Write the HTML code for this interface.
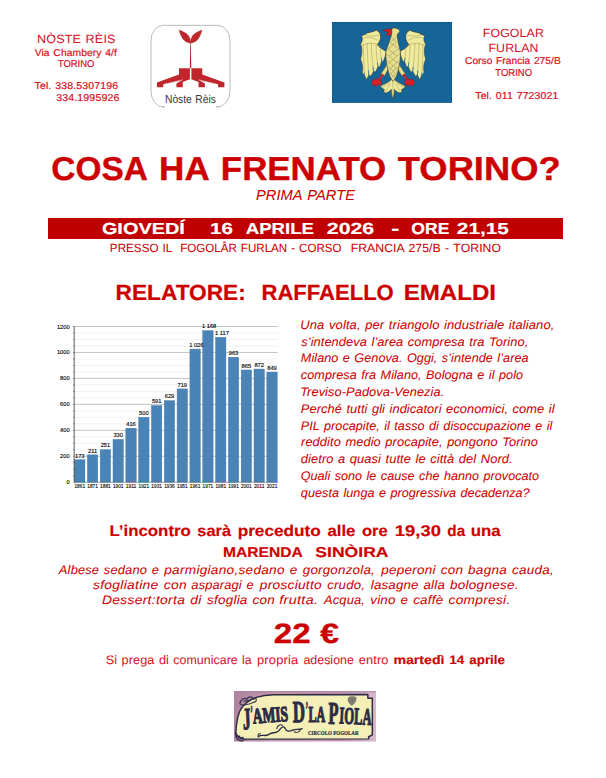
<!DOCTYPE html>
<html lang="it"><head><meta charset="utf-8"><title>Cosa ha frenato Torino?</title>
<style>
html,body{margin:0;padding:0;background:#fff;}
body{width:606px;height:778px;position:relative;overflow:hidden;font-family:"Liberation Sans",sans-serif;}
.t{position:absolute;left:0;white-space:pre;line-height:1;transform-origin:0 0;margin:0;text-rendering:geometricPrecision;}
.abs{position:absolute;display:block;}
.banner{position:absolute;left:48px;top:218px;width:515px;height:21px;background:#c00000;}
</style></head><body>
<div class="banner"></div>
<svg class="abs" style="left:0;top:310px" width="300" height="190" viewBox="0 310 300 190">
<line x1="74.2" x2="277.9" y1="475.71" y2="475.71" stroke="#e3e3e3" stroke-width="0.5"/>
<line x1="73.0" x2="74.2" y1="475.71" y2="475.71" stroke="#222" stroke-width="0.5"/>
<line x1="74.2" x2="277.9" y1="469.22" y2="469.22" stroke="#e3e3e3" stroke-width="0.5"/>
<line x1="73.0" x2="74.2" y1="469.22" y2="469.22" stroke="#222" stroke-width="0.5"/>
<line x1="74.2" x2="277.9" y1="462.74" y2="462.74" stroke="#e3e3e3" stroke-width="0.5"/>
<line x1="73.0" x2="74.2" y1="462.74" y2="462.74" stroke="#222" stroke-width="0.5"/>
<line x1="74.2" x2="277.9" y1="456.25" y2="456.25" stroke="#9a9a9a" stroke-width="0.6"/>
<line x1="73.0" x2="74.2" y1="456.25" y2="456.25" stroke="#222" stroke-width="0.5"/>
<line x1="74.2" x2="277.9" y1="449.76" y2="449.76" stroke="#e3e3e3" stroke-width="0.5"/>
<line x1="73.0" x2="74.2" y1="449.76" y2="449.76" stroke="#222" stroke-width="0.5"/>
<line x1="74.2" x2="277.9" y1="443.27" y2="443.27" stroke="#e3e3e3" stroke-width="0.5"/>
<line x1="73.0" x2="74.2" y1="443.27" y2="443.27" stroke="#222" stroke-width="0.5"/>
<line x1="74.2" x2="277.9" y1="436.79" y2="436.79" stroke="#e3e3e3" stroke-width="0.5"/>
<line x1="73.0" x2="74.2" y1="436.79" y2="436.79" stroke="#222" stroke-width="0.5"/>
<line x1="74.2" x2="277.9" y1="430.30" y2="430.30" stroke="#9a9a9a" stroke-width="0.6"/>
<line x1="73.0" x2="74.2" y1="430.30" y2="430.30" stroke="#222" stroke-width="0.5"/>
<line x1="74.2" x2="277.9" y1="423.81" y2="423.81" stroke="#e3e3e3" stroke-width="0.5"/>
<line x1="73.0" x2="74.2" y1="423.81" y2="423.81" stroke="#222" stroke-width="0.5"/>
<line x1="74.2" x2="277.9" y1="417.32" y2="417.32" stroke="#e3e3e3" stroke-width="0.5"/>
<line x1="73.0" x2="74.2" y1="417.32" y2="417.32" stroke="#222" stroke-width="0.5"/>
<line x1="74.2" x2="277.9" y1="410.84" y2="410.84" stroke="#e3e3e3" stroke-width="0.5"/>
<line x1="73.0" x2="74.2" y1="410.84" y2="410.84" stroke="#222" stroke-width="0.5"/>
<line x1="74.2" x2="277.9" y1="404.35" y2="404.35" stroke="#9a9a9a" stroke-width="0.6"/>
<line x1="73.0" x2="74.2" y1="404.35" y2="404.35" stroke="#222" stroke-width="0.5"/>
<line x1="74.2" x2="277.9" y1="397.86" y2="397.86" stroke="#e3e3e3" stroke-width="0.5"/>
<line x1="73.0" x2="74.2" y1="397.86" y2="397.86" stroke="#222" stroke-width="0.5"/>
<line x1="74.2" x2="277.9" y1="391.38" y2="391.38" stroke="#e3e3e3" stroke-width="0.5"/>
<line x1="73.0" x2="74.2" y1="391.38" y2="391.38" stroke="#222" stroke-width="0.5"/>
<line x1="74.2" x2="277.9" y1="384.89" y2="384.89" stroke="#e3e3e3" stroke-width="0.5"/>
<line x1="73.0" x2="74.2" y1="384.89" y2="384.89" stroke="#222" stroke-width="0.5"/>
<line x1="74.2" x2="277.9" y1="378.40" y2="378.40" stroke="#9a9a9a" stroke-width="0.6"/>
<line x1="73.0" x2="74.2" y1="378.40" y2="378.40" stroke="#222" stroke-width="0.5"/>
<line x1="74.2" x2="277.9" y1="371.91" y2="371.91" stroke="#e3e3e3" stroke-width="0.5"/>
<line x1="73.0" x2="74.2" y1="371.91" y2="371.91" stroke="#222" stroke-width="0.5"/>
<line x1="74.2" x2="277.9" y1="365.42" y2="365.42" stroke="#e3e3e3" stroke-width="0.5"/>
<line x1="73.0" x2="74.2" y1="365.42" y2="365.42" stroke="#222" stroke-width="0.5"/>
<line x1="74.2" x2="277.9" y1="358.94" y2="358.94" stroke="#e3e3e3" stroke-width="0.5"/>
<line x1="73.0" x2="74.2" y1="358.94" y2="358.94" stroke="#222" stroke-width="0.5"/>
<line x1="74.2" x2="277.9" y1="352.45" y2="352.45" stroke="#9a9a9a" stroke-width="0.6"/>
<line x1="73.0" x2="74.2" y1="352.45" y2="352.45" stroke="#222" stroke-width="0.5"/>
<line x1="74.2" x2="277.9" y1="345.96" y2="345.96" stroke="#e3e3e3" stroke-width="0.5"/>
<line x1="73.0" x2="74.2" y1="345.96" y2="345.96" stroke="#222" stroke-width="0.5"/>
<line x1="74.2" x2="277.9" y1="339.48" y2="339.48" stroke="#e3e3e3" stroke-width="0.5"/>
<line x1="73.0" x2="74.2" y1="339.48" y2="339.48" stroke="#222" stroke-width="0.5"/>
<line x1="74.2" x2="277.9" y1="332.99" y2="332.99" stroke="#e3e3e3" stroke-width="0.5"/>
<line x1="73.0" x2="74.2" y1="332.99" y2="332.99" stroke="#222" stroke-width="0.5"/>
<line x1="74.2" x2="277.9" y1="326.50" y2="326.50" stroke="#9a9a9a" stroke-width="0.6"/>
<line x1="73.0" x2="74.2" y1="326.50" y2="326.50" stroke="#222" stroke-width="0.5"/>
<rect x="74.55" y="459.75" width="10.4" height="22.45" fill="#4a83b6" stroke="#3f76a8" stroke-width="0.4"/>
<rect x="87.37" y="454.82" width="10.4" height="27.38" fill="#4a83b6" stroke="#3f76a8" stroke-width="0.4"/>
<rect x="100.18" y="449.63" width="10.4" height="32.57" fill="#4a83b6" stroke="#3f76a8" stroke-width="0.4"/>
<rect x="113.00" y="439.38" width="10.4" height="42.82" fill="#4a83b6" stroke="#3f76a8" stroke-width="0.4"/>
<rect x="125.82" y="428.22" width="10.4" height="53.98" fill="#4a83b6" stroke="#3f76a8" stroke-width="0.4"/>
<rect x="138.63" y="417.32" width="10.4" height="64.88" fill="#4a83b6" stroke="#3f76a8" stroke-width="0.4"/>
<rect x="151.45" y="405.52" width="10.4" height="76.68" fill="#4a83b6" stroke="#3f76a8" stroke-width="0.4"/>
<rect x="164.27" y="400.59" width="10.4" height="81.61" fill="#4a83b6" stroke="#3f76a8" stroke-width="0.4"/>
<rect x="177.09" y="388.91" width="10.4" height="93.29" fill="#4a83b6" stroke="#3f76a8" stroke-width="0.4"/>
<rect x="189.90" y="349.08" width="10.4" height="133.12" fill="#4a83b6" stroke="#3f76a8" stroke-width="0.4"/>
<rect x="202.72" y="330.65" width="10.4" height="151.55" fill="#4a83b6" stroke="#3f76a8" stroke-width="0.4"/>
<rect x="215.54" y="337.27" width="10.4" height="144.93" fill="#4a83b6" stroke="#3f76a8" stroke-width="0.4"/>
<rect x="228.35" y="357.25" width="10.4" height="124.95" fill="#4a83b6" stroke="#3f76a8" stroke-width="0.4"/>
<rect x="241.17" y="369.97" width="10.4" height="112.23" fill="#4a83b6" stroke="#3f76a8" stroke-width="0.4"/>
<rect x="253.99" y="369.06" width="10.4" height="113.14" fill="#4a83b6" stroke="#3f76a8" stroke-width="0.4"/>
<rect x="266.81" y="372.04" width="10.4" height="110.16" fill="#4a83b6" stroke="#3f76a8" stroke-width="0.4"/>
<line x1="74.2" x2="74.2" y1="326.50" y2="482.50" stroke="#222" stroke-width="0.7"/>
<line x1="74.2" x2="277.9" y1="482.20" y2="482.20" stroke="#555" stroke-width="0.5"/>
<g font-family="Liberation Sans, sans-serif" font-size="5.7" fill="#000" stroke="#000" stroke-width="0.12" text-rendering="geometricPrecision">
<text x="69.6" y="484.20" text-anchor="end">0</text>
<text x="69.6" y="458.25" text-anchor="end">200</text>
<text x="69.6" y="432.30" text-anchor="end">400</text>
<text x="69.6" y="406.35" text-anchor="end">600</text>
<text x="69.6" y="380.40" text-anchor="end">800</text>
<text x="69.6" y="354.45" text-anchor="end">1000</text>
<text x="69.6" y="328.50" text-anchor="end">1200</text>
<text x="79.75" y="457.55" text-anchor="middle">173</text>
<text x="79.75" y="488.00" text-anchor="middle" textLength="10.6" lengthAdjust="spacingAndGlyphs">1861</text>
<text x="92.57" y="452.62" text-anchor="middle">211</text>
<text x="92.57" y="488.00" text-anchor="middle" textLength="10.6" lengthAdjust="spacingAndGlyphs">1871</text>
<text x="105.38" y="447.43" text-anchor="middle">251</text>
<text x="105.38" y="488.00" text-anchor="middle" textLength="10.6" lengthAdjust="spacingAndGlyphs">1881</text>
<text x="118.20" y="437.18" text-anchor="middle">330</text>
<text x="118.20" y="488.00" text-anchor="middle" textLength="10.6" lengthAdjust="spacingAndGlyphs">1901</text>
<text x="131.02" y="426.02" text-anchor="middle">416</text>
<text x="131.02" y="488.00" text-anchor="middle" textLength="10.6" lengthAdjust="spacingAndGlyphs">1911</text>
<text x="143.83" y="415.12" text-anchor="middle">500</text>
<text x="143.83" y="488.00" text-anchor="middle" textLength="10.6" lengthAdjust="spacingAndGlyphs">1921</text>
<text x="156.65" y="403.32" text-anchor="middle">591</text>
<text x="156.65" y="488.00" text-anchor="middle" textLength="10.6" lengthAdjust="spacingAndGlyphs">1931</text>
<text x="169.47" y="398.39" text-anchor="middle">629</text>
<text x="169.47" y="488.00" text-anchor="middle" textLength="10.6" lengthAdjust="spacingAndGlyphs">1936</text>
<text x="182.29" y="386.71" text-anchor="middle">719</text>
<text x="182.29" y="488.00" text-anchor="middle" textLength="10.6" lengthAdjust="spacingAndGlyphs">1951</text>
<text x="196.30" y="346.88" text-anchor="middle">1 026</text>
<text x="195.10" y="488.00" text-anchor="middle" textLength="10.6" lengthAdjust="spacingAndGlyphs">1961</text>
<text x="209.12" y="328.45" text-anchor="middle">1 168</text>
<text x="207.92" y="488.00" text-anchor="middle" textLength="10.6" lengthAdjust="spacingAndGlyphs">1971</text>
<text x="221.94" y="335.07" text-anchor="middle">1 117</text>
<text x="220.74" y="488.00" text-anchor="middle" textLength="10.6" lengthAdjust="spacingAndGlyphs">1981</text>
<text x="233.55" y="355.05" text-anchor="middle">963</text>
<text x="233.55" y="488.00" text-anchor="middle" textLength="10.6" lengthAdjust="spacingAndGlyphs">1991</text>
<text x="246.37" y="367.77" text-anchor="middle">865</text>
<text x="246.37" y="488.00" text-anchor="middle" textLength="10.6" lengthAdjust="spacingAndGlyphs">2001</text>
<text x="259.19" y="366.86" text-anchor="middle">872</text>
<text x="259.19" y="488.00" text-anchor="middle" textLength="10.6" lengthAdjust="spacingAndGlyphs">2011</text>
<text x="272.00" y="369.84" text-anchor="middle">849</text>
<text x="272.00" y="488.00" text-anchor="middle" textLength="10.6" lengthAdjust="spacingAndGlyphs">2021</text>
</g></svg>
<svg class="abs" style="left:140px;top:20px" width="100" height="90" viewBox="140 20 100 90">
<path d="M163.6 107 A12.6 16 0 0 1 151 91 L151 40.4 A12.4 15 0 0 1 163.3 25.35 L217.6 25.35 A12.4 15 0 0 1 230 40.4 L230 91 A12.6 16 0 0 1 217.4 107" fill="none" stroke="#8c8c8c" stroke-width="0.6"/>
<circle cx="163.8" cy="106.9" r="0.7" fill="#777"/><circle cx="217.2" cy="106.9" r="0.7" fill="#777"/>
<path d="M179 30.1 C180 34 181.5 37 182.5 38.5 C184 40.8 186.5 42.6 190.45 43.2 C190.6 41 190.4 40 190.1 39.2 C189.5 37.5 188.8 36 188 35.1 C186 33 183 31.5 179 30.1 Z" fill="#c0272d" stroke="#8e1c1c" stroke-width="0.25"/>
<g transform="translate(381.1 0) scale(-1 1)"><path d="M179 30.1 C180 34 181.5 37 182.5 38.5 C184 40.8 186.5 42.6 190.45 43.2 C190.6 41 190.4 40 190.1 39.2 C189.5 37.5 188.8 36 188 35.1 C186 33 183 31.5 179 30.1 Z" fill="#c0272d" stroke="#8e1c1c" stroke-width="0.25"/></g>
<path d="M190.3 43 L190.75 43 L191.3 68.2 L189.8 68.2 Z" fill="#c0272d"/>
<line x1="190.5" x2="190.5" y1="43" y2="64" stroke="#5a1a1a" stroke-width="0.25"/>
<path d="M179 68.2 L189.9 68.2 L189.9 79.2 L182.8 82 L182.8 87.2 L176.4 87.2 L176.4 83.4 L181.5 80.6 L163.2 84.4 L163.2 87.2 L156.9 87.2 L156.9 82.6 L179 74.6 Z" fill="#c0272d"/><path d="M163.4 84.5 L182.6 79.9" stroke="#fff" stroke-width="0.55" fill="none"/>
<g transform="translate(381.3 0) scale(-1 1)"><path d="M179 68.2 L189.9 68.2 L189.9 79.2 L182.8 82 L182.8 87.2 L176.4 87.2 L176.4 83.4 L181.5 80.6 L163.2 84.4 L163.2 87.2 L156.9 87.2 L156.9 82.6 L179 74.6 Z" fill="#c0272d"/><path d="M163.4 84.5 L182.6 79.9" stroke="#fff" stroke-width="0.55" fill="none"/></g>
<line x1="190.55" x2="190.55" y1="68" y2="80" stroke="#fff" stroke-width="0.6"/>
</svg>
<svg class="abs" style="left:330px;top:20px" width="124" height="85" viewBox="330 20 124 85">
<rect x="332" y="22" width="120" height="80.75" fill="#156598"/>
<rect x="332.3" y="22.3" width="119.4" height="80.15" fill="none" stroke="#0b588c" stroke-width="0.6"/>
<g transform="translate(355 22) scale(0.12376)" stroke-linejoin="round">
<g transform="">
<path d="M254 238 C225 225 195 205 180 182 C195 165 208 145 205 126 C207 110 203 95 199 88 C192 80 182 74 174 66 C150 78 125 82 99 88 C85 98 70 106 52 110 C66 135 58 160 45 180 C62 220 56 262 45 300 C62 335 64 372 58 406 C72 428 84 446 93 466 L112 430 L128 438 L150 400 L166 404 L186 362 L200 364 L216 318 L230 318 C240 292 250 262 254 238 Z" fill="#f0ea9c" stroke="#3c3a2a" stroke-width="5"/>
<path d="M112 430 C104 340 100 250 98 170 M150 400 C140 330 134 250 132 170 M186 362 C178 310 172 250 170 180 M216 318 C210 285 206 250 205 215 M75 405 C70 330 68 250 66 175 M60 190 C100 165 160 165 215 200 M70 130 C110 120 150 125 190 150 M80 105 C120 115 160 118 195 105" fill="none" stroke="#7f7b4a" stroke-width="5" opacity="0.6"/>
<path d="M112 432 L108 395 M150 402 L146 365 M186 364 L182 330 M216 320 L213 295 M80 440 L76 410" fill="none" stroke="#156598" stroke-width="6" stroke-linecap="round"/>
<path d="M266 330 C248 360 228 395 208 420 L238 436 C254 412 268 382 282 350 Z" fill="#e6df90" stroke="#3c3a2a" stroke-width="4"/>
<path d="M222 428 L184 482" stroke="#d8202a" stroke-width="17" stroke-linecap="round"/>
<path d="M136 480 C146 462 172 456 190 464 C208 467 216 482 213 497 C206 517 192 507 187 502 C182 522 164 522 160 507 C150 522 136 512 136 480 Z" fill="#d8202a" stroke="#7a1010" stroke-width="3"/>
</g>
<g transform="translate(616 0) scale(-1 1)">
<path d="M254 238 C225 225 195 205 180 182 C195 165 208 145 205 126 C207 110 203 95 199 88 C192 80 182 74 174 66 C150 78 125 82 99 88 C85 98 70 106 52 110 C66 135 58 160 45 180 C62 220 56 262 45 300 C62 335 64 372 58 406 C72 428 84 446 93 466 L112 430 L128 438 L150 400 L166 404 L186 362 L200 364 L216 318 L230 318 C240 292 250 262 254 238 Z" fill="#f0ea9c" stroke="#3c3a2a" stroke-width="5"/>
<path d="M112 430 C104 340 100 250 98 170 M150 400 C140 330 134 250 132 170 M186 362 C178 310 172 250 170 180 M216 318 C210 285 206 250 205 215 M75 405 C70 330 68 250 66 175 M60 190 C100 165 160 165 215 200 M70 130 C110 120 150 125 190 150 M80 105 C120 115 160 118 195 105" fill="none" stroke="#7f7b4a" stroke-width="5" opacity="0.6"/>
<path d="M112 432 L108 395 M150 402 L146 365 M186 364 L182 330 M216 320 L213 295 M80 440 L76 410" fill="none" stroke="#156598" stroke-width="6" stroke-linecap="round"/>
<path d="M266 330 C248 360 228 395 208 420 L238 436 C254 412 268 382 282 350 Z" fill="#e6df90" stroke="#3c3a2a" stroke-width="4"/>
<path d="M222 428 L184 482" stroke="#d8202a" stroke-width="17" stroke-linecap="round"/>
<path d="M136 480 C146 462 172 456 190 464 C208 467 216 482 213 497 C206 517 192 507 187 502 C182 522 164 522 160 507 C150 522 136 512 136 480 Z" fill="#d8202a" stroke="#7a1010" stroke-width="3"/>
</g>
<path d="M307 455 C284 480 244 500 202 518 C217 533 227 543 238 546 C228 558 233 570 248 574 C268 569 283 559 293 544 C293 575 298 600 305 618 C314 600 319 575 319 544 C329 559 343 569 363 574 C378 571 383 559 375 546 C388 543 398 533 408 518 C368 500 330 480 307 455 Z" fill="#f0ea9c" stroke="#3c3a2a" stroke-width="5"/>
<path d="M306 480 L306 600 M288 490 C273 520 258 540 248 560 M324 490 C339 520 354 540 364 560 M273 495 C253 510 233 520 218 525 M339 495 C359 510 379 520 394 525" fill="none" stroke="#7f7b4a" stroke-width="5" opacity="0.65"/>
<path d="M308 480 C292 462 276 432 270 402 C256 352 246 290 250 238 C262 195 284 150 294 106 C292 86 294 62 304 48 C334 45 364 60 362 78 C350 86 345 96 340 110 C345 150 356 195 366 238 C370 290 360 352 346 402 C340 432 324 462 308 480 Z" fill="#e6df90" stroke="#3c3a2a" stroke-width="5"/>
<path d="M262 215 L340 275 M256 260 L348 335 M258 310 L342 385 M268 360 L330 420 M282 410 L318 450 M354 215 L276 275 M360 260 L268 335 M358 310 L274 385 M348 360 L286 420 M334 410 L298 450 M296 125 L336 165 M330 125 L288 165 M284 165 L348 215 M332 165 L268 215" fill="none" stroke="#7f7b4a" stroke-width="5" opacity="0.7"/>
<path d="M298 60 C277 53 252 58 224 70 C246 74 264 78 274 82 C258 88 250 98 256 108 C274 108 288 102 299 95 Z" fill="#d8202a" stroke="#7a1010" stroke-width="3"/>
</g></svg>
<svg class="abs" style="left:232px;top:689px" width="146" height="54" viewBox="232 689 146 54">
<defs><linearGradient id="pg" x1="0" x2="1" y1="0" y2="0"><stop offset="0" stop-color="#b0829e"/><stop offset="0.25" stop-color="#c397ae"/><stop offset="0.8" stop-color="#c99bb4"/><stop offset="1" stop-color="#d9b9cc"/></linearGradient></defs>
<g transform="translate(225 680) scale(0.26403)">
<rect x="34" y="42" width="538" height="191" fill="url(#pg)"/>
<rect x="34" y="42" width="538" height="5" fill="#9c7a98" opacity="0.6"/>
<path d="M41 200 C42 172 46 152 49 138 C54 120 60 108 69 98 C84 82 100 72 119 66 C140 60 160 57 184 56 L541 55 L541 69 L558 69 L558 208 L544 215 L544 223 L82 224 C60 226 46 216 41 200 Z" fill="#f4efb6" stroke="#2b2b46" stroke-width="5.5" stroke-linejoin="round"/>
<g font-family="Liberation Serif, serif" font-weight="bold" fill="#2b2b46" stroke="#2b2b46" stroke-width="4.6" stroke-linejoin="round">
<text x="69" y="187" font-size="116" textLength="30" lengthAdjust="spacingAndGlyphs" transform="rotate(-3 69 187)">J</text>
<text x="97" y="150" font-size="80" textLength="8" lengthAdjust="spacingAndGlyphs">’</text>
<text x="107" y="165" font-size="82" textLength="134" lengthAdjust="spacingAndGlyphs" transform="rotate(-4.3 107 165)">AMIS</text>
<text x="258" y="160" font-size="116" textLength="46" lengthAdjust="spacingAndGlyphs" transform="rotate(-1 258 160)">D</text>
<text x="306" y="135" font-size="80" textLength="8" lengthAdjust="spacingAndGlyphs">’</text>
<text x="316" y="158" font-size="88" textLength="64" lengthAdjust="spacingAndGlyphs">LA</text>
<text x="391" y="166" font-size="120" textLength="38" lengthAdjust="spacingAndGlyphs" transform="rotate(1 391 166)">P</text>
<text x="432" y="164" font-size="90" textLength="122" lengthAdjust="spacingAndGlyphs" transform="rotate(2.7 432 164)">IOLA</text>
</g>
<g font-family="Liberation Serif, serif" font-weight="bold" fill="#2b2b46" stroke="#2b2b46" stroke-width="0.8"><text x="314" y="207" font-size="24" textLength="192" lengthAdjust="spacingAndGlyphs">CIRCOLO FOGOLAR</text></g>
<path d="M126 214 C140 204 152 216 166 206 C180 194 192 206 204 192 C212 178 224 172 228 184 C232 196 244 196 256 190 C268 184 280 190 292 184" fill="none" stroke="#2b2b46" stroke-width="5" stroke-linecap="round"/>
<path d="M196 184 C198 172 210 166 218 172 M128 216 C122 210 126 202 134 204 M262 196 C270 200 280 198 284 190" fill="none" stroke="#2b2b46" stroke-width="4" stroke-linecap="round"/>
<path d="M56 90 C60 72 72 64 82 74 C88 62 102 60 108 72 C116 66 122 72 116 82 C104 84 96 92 84 92 C72 96 62 98 56 90 Z M70 80 L96 78" fill="none" stroke="#2b2b46" stroke-width="4.5" opacity="0.9"/>
<path d="M466 66 C462 78 468 90 480 97 C492 90 500 78 497 64 C488 60 474 60 466 66 Z" fill="#2b2b46" opacity="0.6"/>
<path d="M40 200 C40 222 52 234 70 230 M52 210 C56 220 64 222 70 216" fill="none" stroke="#2b2b46" stroke-width="5"/>
</g></svg>
<div class="t" style="top:33px;font-size:12.06px;transform:translateX(37.02px) scaleX(1.0438);color:#d8121f;letter-spacing:0.145px;word-spacing:0.84px;-webkit-text-stroke:0.05px #d8121f;">NÒSTE RÈIS</div>
<div class="t" style="top:49px;font-size:9.88px;transform:translateX(34.70px) scaleX(1.0428);color:#d8121f;letter-spacing:0.091px;word-spacing:0.69px;-webkit-text-stroke:0.2px #d8121f;">Via Chambery 4/f</div>
<div class="t" style="top:60px;font-size:9.88px;transform:translateX(57.91px) scaleX(0.9529);color:#d8121f;-webkit-text-stroke:0.2px #d8121f;">TORINO</div>
<div class="t" style="top:82px;font-size:10.03px;transform:translateX(34.49px) scaleX(1.0540);color:#d8121f;letter-spacing:0.113px;word-spacing:0.70px;-webkit-text-stroke:0.2px #d8121f;">Tel. 338.5307196</div>
<div class="t" style="top:94px;font-size:10.03px;transform:translateX(56.13px) scaleX(1.0569);color:#d8121f;letter-spacing:0.133px;-webkit-text-stroke:0.2px #d8121f;">334.1995926</div>
<div class="t" style="top:28px;font-size:11.92px;transform:translateX(482.74px) scaleX(1.0348);color:#d8121f;letter-spacing:0.136px;-webkit-text-stroke:0.05px #d8121f;">FOGOLAR</div>
<div class="t" style="top:43px;font-size:11.92px;transform:translateX(488.44px) scaleX(1.0357);color:#d8121f;letter-spacing:0.135px;-webkit-text-stroke:0.05px #d8121f;">FURLAN</div>
<div class="t" style="top:57px;font-size:10.03px;transform:translateX(464.99px) scaleX(1.0185);color:#d8121f;letter-spacing:0.040px;word-spacing:0.70px;-webkit-text-stroke:0.2px #d8121f;">Corso Francia 275/B</div>
<div class="t" style="top:69px;font-size:10.03px;transform:translateX(495.31px) scaleX(0.9465);color:#d8121f;-webkit-text-stroke:0.2px #d8121f;">TORINO</div>
<div class="t" style="top:92px;font-size:10.03px;transform:translateX(475.29px) scaleX(1.0495);color:#d8121f;letter-spacing:0.104px;word-spacing:0.70px;-webkit-text-stroke:0.2px #d8121f;">Tel. 011 7723021</div>
<div class="t" style="top:95px;font-size:11.48px;transform:translateX(165.01px) scaleX(0.8925);color:#3a3a3a;word-spacing:0.80px;-webkit-text-stroke:0.05px #3a3a3a;">Nòste Rèis</div>
<div class="t" style="top:153px;font-size:33.14px;transform:translateX(51.34px) scaleX(1.0080);color:#cc0000;font-weight:bold;-webkit-text-stroke:0.36px #cc0000;">COSA</div>
<div class="t" style="top:153px;font-size:33.14px;transform:translateX(159.10px) scaleX(1.0570);color:#cc0000;font-weight:bold;-webkit-text-stroke:0.36px #cc0000;">HA</div>
<div class="t" style="top:153px;font-size:33.14px;transform:translateX(220.81px) scaleX(1.0536);color:#cc0000;font-weight:bold;-webkit-text-stroke:0.36px #cc0000;">FRENATO</div>
<div class="t" style="top:153px;font-size:33.14px;transform:translateX(397.82px) scaleX(1.0971);color:#cc0000;font-weight:bold;-webkit-text-stroke:0.36px #cc0000;">TORINO?</div>
<div class="t" style="top:189px;font-size:14.39px;transform:translateX(255.99px) scaleX(1.0171);color:#cc0000;letter-spacing:0.070px;word-spacing:1.01px;font-style:italic;-webkit-text-stroke:0.05px #cc0000;">PRIMA PARTE</div>
<div class="t" style="top:222px;font-size:15.99px;transform:translateX(101.89px) scaleX(1.2452);color:#ffffff;font-weight:bold;-webkit-text-stroke:0.18px #ffffff;">GIOVEDÍ</div>
<div class="t" style="top:222px;font-size:15.99px;transform:translateX(210.06px) scaleX(1.2814);color:#ffffff;font-weight:bold;-webkit-text-stroke:0.18px #ffffff;">16</div>
<div class="t" style="top:222px;font-size:15.99px;transform:translateX(245.72px) scaleX(1.1645);color:#ffffff;font-weight:bold;-webkit-text-stroke:0.18px #ffffff;">APRILE</div>
<div class="t" style="top:222px;font-size:15.99px;transform:translateX(326.85px) scaleX(1.3305);color:#ffffff;font-weight:bold;-webkit-text-stroke:0.18px #ffffff;">2026</div>
<div class="t" style="top:222px;font-size:15.99px;transform:translateX(391.24px) scaleX(1.5202);color:#ffffff;font-weight:bold;-webkit-text-stroke:0.18px #ffffff;">-</div>
<div class="t" style="top:222px;font-size:15.99px;transform:translateX(411.29px) scaleX(1.0988);color:#ffffff;font-weight:bold;-webkit-text-stroke:0.18px #ffffff;">ORE</div>
<div class="t" style="top:222px;font-size:15.99px;transform:translateX(456.87px) scaleX(1.2967);color:#ffffff;font-weight:bold;-webkit-text-stroke:0.18px #ffffff;">21,15</div>
<div class="t" style="top:243px;font-size:11.92px;transform:translateX(109.84px) scaleX(0.9817);color:#cc0000;word-spacing:0.83px;-webkit-text-stroke:0.05px #cc0000;">PRESSO IL</div>
<div class="t" style="top:243px;font-size:11.92px;transform:translateX(180.20px) scaleX(0.9726);color:#cc0000;word-spacing:0.83px;-webkit-text-stroke:0.05px #cc0000;">FOGOLÂR FURLAN - CORSO</div>
<div class="t" style="top:243px;font-size:11.92px;transform:translateX(350.65px) scaleX(1.0260);color:#cc0000;letter-spacing:0.075px;word-spacing:0.83px;-webkit-text-stroke:0.05px #cc0000;">FRANCIA 275/B - TORINO</div>
<div class="t" style="top:282px;font-size:21.95px;transform:translateX(115.54px) scaleX(1.0344);color:#cc0000;font-weight:bold;-webkit-text-stroke:0.24px #cc0000;">RELATORE:</div>
<div class="t" style="top:282px;font-size:21.95px;transform:translateX(261.49px) scaleX(1.0049);color:#cc0000;font-weight:bold;-webkit-text-stroke:0.24px #cc0000;">RAFFAELLO</div>
<div class="t" style="top:282px;font-size:21.95px;transform:translateX(403.65px) scaleX(1.0988);color:#cc0000;font-weight:bold;-webkit-text-stroke:0.24px #cc0000;">EMALDI</div>
<div class="t" style="top:319px;font-size:12.46px;transform:translateX(300.32px) scaleX(1.0418);color:#cc0000;letter-spacing:0.091px;word-spacing:0.87px;font-style:italic;-webkit-text-stroke:0.05px #cc0000;">Una volta, per triangolo industriale italiano,</div>
<div class="t" style="top:336px;font-size:12.46px;transform:translateX(301.22px) scaleX(1.0305);color:#cc0000;letter-spacing:0.072px;word-spacing:0.87px;font-style:italic;-webkit-text-stroke:0.05px #cc0000;">s’intendeva l’area compresa tra Torino,</div>
<div class="t" style="top:352px;font-size:12.46px;transform:translateX(300.84px) scaleX(1.0166);color:#cc0000;letter-spacing:0.041px;word-spacing:0.87px;font-style:italic;-webkit-text-stroke:0.05px #cc0000;">Milano e Genova. Oggi, s’intende l’area</div>
<div class="t" style="top:369px;font-size:12.46px;transform:translateX(300.84px) scaleX(1.0166);color:#cc0000;letter-spacing:0.041px;word-spacing:0.87px;font-style:italic;-webkit-text-stroke:0.05px #cc0000;">compresa fra Milano, Bologna e il polo</div>
<div class="t" style="top:386px;font-size:12.46px;transform:translateX(300.13px) scaleX(1.0292);color:#cc0000;letter-spacing:0.075px;font-style:italic;-webkit-text-stroke:0.05px #cc0000;">Treviso-Padova-Venezia.</div>
<div class="t" style="top:403px;font-size:12.46px;transform:translateX(300.84px) scaleX(1.0299);color:#cc0000;letter-spacing:0.067px;word-spacing:0.87px;font-style:italic;-webkit-text-stroke:0.05px #cc0000;">Perché tutti gli indicatori economici, come il</div>
<div class="t" style="top:420px;font-size:12.46px;transform:translateX(300.85px) scaleX(1.0133);color:#cc0000;letter-spacing:0.031px;word-spacing:0.87px;font-style:italic;-webkit-text-stroke:0.05px #cc0000;">PIL procapite, il tasso di disoccupazione e il</div>
<div class="t" style="top:436px;font-size:12.46px;transform:translateX(301.03px) scaleX(1.0317);color:#cc0000;letter-spacing:0.078px;word-spacing:0.87px;font-style:italic;-webkit-text-stroke:0.05px #cc0000;">reddito medio procapite, pongono Torino</div>
<div class="t" style="top:453px;font-size:12.46px;transform:translateX(300.84px) scaleX(1.0338);color:#cc0000;letter-spacing:0.074px;word-spacing:0.87px;font-style:italic;-webkit-text-stroke:0.05px #cc0000;">dietro a quasi tutte le città del Nord.</div>
<div class="t" style="top:470px;font-size:12.46px;transform:translateX(300.66px) scaleX(1.0122);color:#cc0000;letter-spacing:0.032px;word-spacing:0.87px;font-style:italic;-webkit-text-stroke:0.05px #cc0000;">Quali sono le cause che hanno provocato</div>
<div class="t" style="top:487px;font-size:12.46px;transform:translateX(300.85px) scaleX(1.0140);color:#cc0000;letter-spacing:0.037px;word-spacing:0.87px;font-style:italic;-webkit-text-stroke:0.05px #cc0000;">questa lunga e progressiva decadenza?</div>
<div class="t" style="top:524px;font-size:15.46px;transform:translateX(109.39px) scaleX(1.0912);color:#cc0000;font-weight:bold;-webkit-text-stroke:0.17px #cc0000;">L’incontro</div>
<div class="t" style="top:524px;font-size:15.46px;transform:translateX(197.31px) scaleX(1.0607);color:#cc0000;font-weight:bold;-webkit-text-stroke:0.17px #cc0000;">sarà</div>
<div class="t" style="top:524px;font-size:15.46px;transform:translateX(237.67px) scaleX(1.1128);color:#cc0000;font-weight:bold;-webkit-text-stroke:0.17px #cc0000;">preceduto</div>
<div class="t" style="top:524px;font-size:15.46px;transform:translateX(327.47px) scaleX(1.0847);color:#cc0000;font-weight:bold;-webkit-text-stroke:0.17px #cc0000;">alle</div>
<div class="t" style="top:524px;font-size:15.46px;transform:translateX(361.91px) scaleX(1.0692);color:#cc0000;font-weight:bold;-webkit-text-stroke:0.17px #cc0000;">ore</div>
<div class="t" style="top:524px;font-size:15.46px;transform:translateX(394.78px) scaleX(1.1943);color:#cc0000;font-weight:bold;-webkit-text-stroke:0.17px #cc0000;">19,30</div>
<div class="t" style="top:524px;font-size:15.46px;transform:translateX(447.37px) scaleX(0.9869);color:#cc0000;font-weight:bold;-webkit-text-stroke:0.17px #cc0000;">da</div>
<div class="t" style="top:524px;font-size:15.46px;transform:translateX(470.67px) scaleX(1.0912);color:#cc0000;font-weight:bold;-webkit-text-stroke:0.17px #cc0000;">una</div>
<div class="t" style="top:546px;font-size:14.24px;transform:translateX(222.96px) scaleX(1.0979);color:#cc0000;font-weight:bold;-webkit-text-stroke:0.16px #cc0000;">MARENDA</div>
<div class="t" style="top:546px;font-size:14.24px;transform:translateX(315.34px) scaleX(1.2331);color:#cc0000;font-weight:bold;-webkit-text-stroke:0.16px #cc0000;">SINÒIRA</div>
<div class="t" style="top:564px;font-size:12.31px;transform:translateX(58.87px) scaleX(1.0497);color:#cc0000;letter-spacing:0.136px;word-spacing:0.86px;font-style:italic;-webkit-text-stroke:0.05px #cc0000;">Albese sedano e</div>
<div class="t" style="top:564px;font-size:12.31px;transform:translateX(164.27px) scaleX(1.1050);color:#cc0000;letter-spacing:0.262px;word-spacing:0.86px;font-style:italic;-webkit-text-stroke:0.05px #cc0000;">parmigiano,sedano e</div>
<div class="t" style="top:564px;font-size:12.31px;transform:translateX(302.72px) scaleX(1.0857);color:#cc0000;letter-spacing:0.213px;font-style:italic;-webkit-text-stroke:0.05px #cc0000;">gorgonzola,</div>
<div class="t" style="top:564px;font-size:12.31px;transform:translateX(381.16px) scaleX(1.0956);color:#cc0000;letter-spacing:0.244px;word-spacing:0.86px;font-style:italic;-webkit-text-stroke:0.05px #cc0000;">peperoni con</div>
<div class="t" style="top:564px;font-size:12.31px;transform:translateX(468.09px) scaleX(1.0964);color:#cc0000;letter-spacing:0.253px;word-spacing:0.86px;font-style:italic;-webkit-text-stroke:0.05px #cc0000;">bagna cauda,</div>
<div class="t" style="top:579px;font-size:12.31px;transform:translateX(92.93px) scaleX(1.1257);color:#cc0000;letter-spacing:0.270px;word-spacing:0.86px;font-style:italic;-webkit-text-stroke:0.05px #cc0000;">sfogliatine con</div>
<div class="t" style="top:579px;font-size:12.31px;transform:translateX(191.37px) scaleX(1.0473);color:#cc0000;letter-spacing:0.124px;word-spacing:0.86px;font-style:italic;-webkit-text-stroke:0.05px #cc0000;">asparagi e</div>
<div class="t" style="top:579px;font-size:12.31px;transform:translateX(259.77px) scaleX(1.1124);color:#cc0000;letter-spacing:0.256px;font-style:italic;-webkit-text-stroke:0.05px #cc0000;">prosciutto</div>
<div class="t" style="top:579px;font-size:12.31px;transform:translateX(327.13px) scaleX(1.0754);color:#cc0000;letter-spacing:0.195px;font-style:italic;-webkit-text-stroke:0.05px #cc0000;">crudo,</div>
<div class="t" style="top:579px;font-size:12.31px;transform:translateX(370.73px) scaleX(1.0801);color:#cc0000;letter-spacing:0.191px;word-spacing:0.86px;font-style:italic;-webkit-text-stroke:0.05px #cc0000;">lasagne alla</div>
<div class="t" style="top:579px;font-size:12.31px;transform:translateX(449.99px) scaleX(1.0977);color:#cc0000;letter-spacing:0.249px;font-style:italic;-webkit-text-stroke:0.05px #cc0000;">bolognese.</div>
<div class="t" style="top:594px;font-size:12.31px;transform:translateX(101.91px) scaleX(1.1264);color:#cc0000;letter-spacing:0.270px;word-spacing:0.86px;font-style:italic;-webkit-text-stroke:0.05px #cc0000;">Dessert:torta di</div>
<div class="t" style="top:594px;font-size:12.31px;transform:translateX(206.93px) scaleX(1.0963);color:#cc0000;letter-spacing:0.223px;word-spacing:0.86px;font-style:italic;-webkit-text-stroke:0.05px #cc0000;">sfoglia con</div>
<div class="t" style="top:594px;font-size:12.31px;transform:translateX(279.30px) scaleX(1.1628);color:#cc0000;letter-spacing:0.297px;font-style:italic;-webkit-text-stroke:0.05px #cc0000;">frutta.</div>
<div class="t" style="top:594px;font-size:12.31px;transform:translateX(323.97px) scaleX(1.0484);color:#cc0000;letter-spacing:0.149px;font-style:italic;-webkit-text-stroke:0.05px #cc0000;">Acqua,</div>
<div class="t" style="top:594px;font-size:12.31px;transform:translateX(370.25px) scaleX(1.0895);color:#cc0000;letter-spacing:0.204px;word-spacing:0.86px;font-style:italic;-webkit-text-stroke:0.05px #cc0000;">vino e caffè</div>
<div class="t" style="top:594px;font-size:12.31px;transform:translateX(448.51px) scaleX(1.1115);color:#cc0000;letter-spacing:0.277px;font-style:italic;-webkit-text-stroke:0.05px #cc0000;">compresi.</div>
<div class="t" style="top:620px;font-size:28.05px;transform:translateX(273.76px) scaleX(1.1822);color:#cc0000;font-weight:bold;-webkit-text-stroke:0.31px #cc0000;">22</div>
<div class="t" style="top:620px;font-size:28.05px;transform:translateX(320.25px) scaleX(1.2009);color:#cc0000;font-weight:bold;-webkit-text-stroke:0.31px #cc0000;">€</div>
<div class="t" style="top:654px;font-size:12.31px;transform:translateX(105.65px) scaleX(1.0314);color:#d8121f;letter-spacing:0.077px;word-spacing:0.86px;-webkit-text-stroke:0.05px #d8121f;">Si prega di</div>
<div class="t" style="top:654px;font-size:12.31px;transform:translateX(173.33px) scaleX(1.0091);color:#d8121f;letter-spacing:0.025px;word-spacing:0.86px;-webkit-text-stroke:0.05px #d8121f;">comunicare la</div>
<div class="t" style="top:654px;font-size:12.31px;transform:translateX(257.05px) scaleX(1.0507);color:#d8121f;letter-spacing:0.130px;-webkit-text-stroke:0.05px #d8121f;">propria</div>
<div class="t" style="top:654px;font-size:12.31px;transform:translateX(303.43px) scaleX(1.0069);color:#d8121f;letter-spacing:0.021px;-webkit-text-stroke:0.05px #d8121f;">adesione</div>
<div class="t" style="top:654px;font-size:12.31px;transform:translateX(358.81px) scaleX(1.0412);color:#d8121f;letter-spacing:0.115px;-webkit-text-stroke:0.05px #d8121f;">entro</div>
<div class="t" style="top:654px;font-size:12.31px;transform:translateX(393.45px) scaleX(1.1491);color:#cc0000;font-weight:bold;-webkit-text-stroke:0.14px #cc0000;">martedì</div>
<div class="t" style="top:654px;font-size:12.31px;transform:translateX(449.26px) scaleX(1.1020);color:#cc0000;font-weight:bold;-webkit-text-stroke:0.14px #cc0000;">14</div>
<div class="t" style="top:654px;font-size:12.31px;transform:translateX(469.34px) scaleX(1.0842);color:#cc0000;font-weight:bold;-webkit-text-stroke:0.14px #cc0000;">aprile</div>
</body></html>
